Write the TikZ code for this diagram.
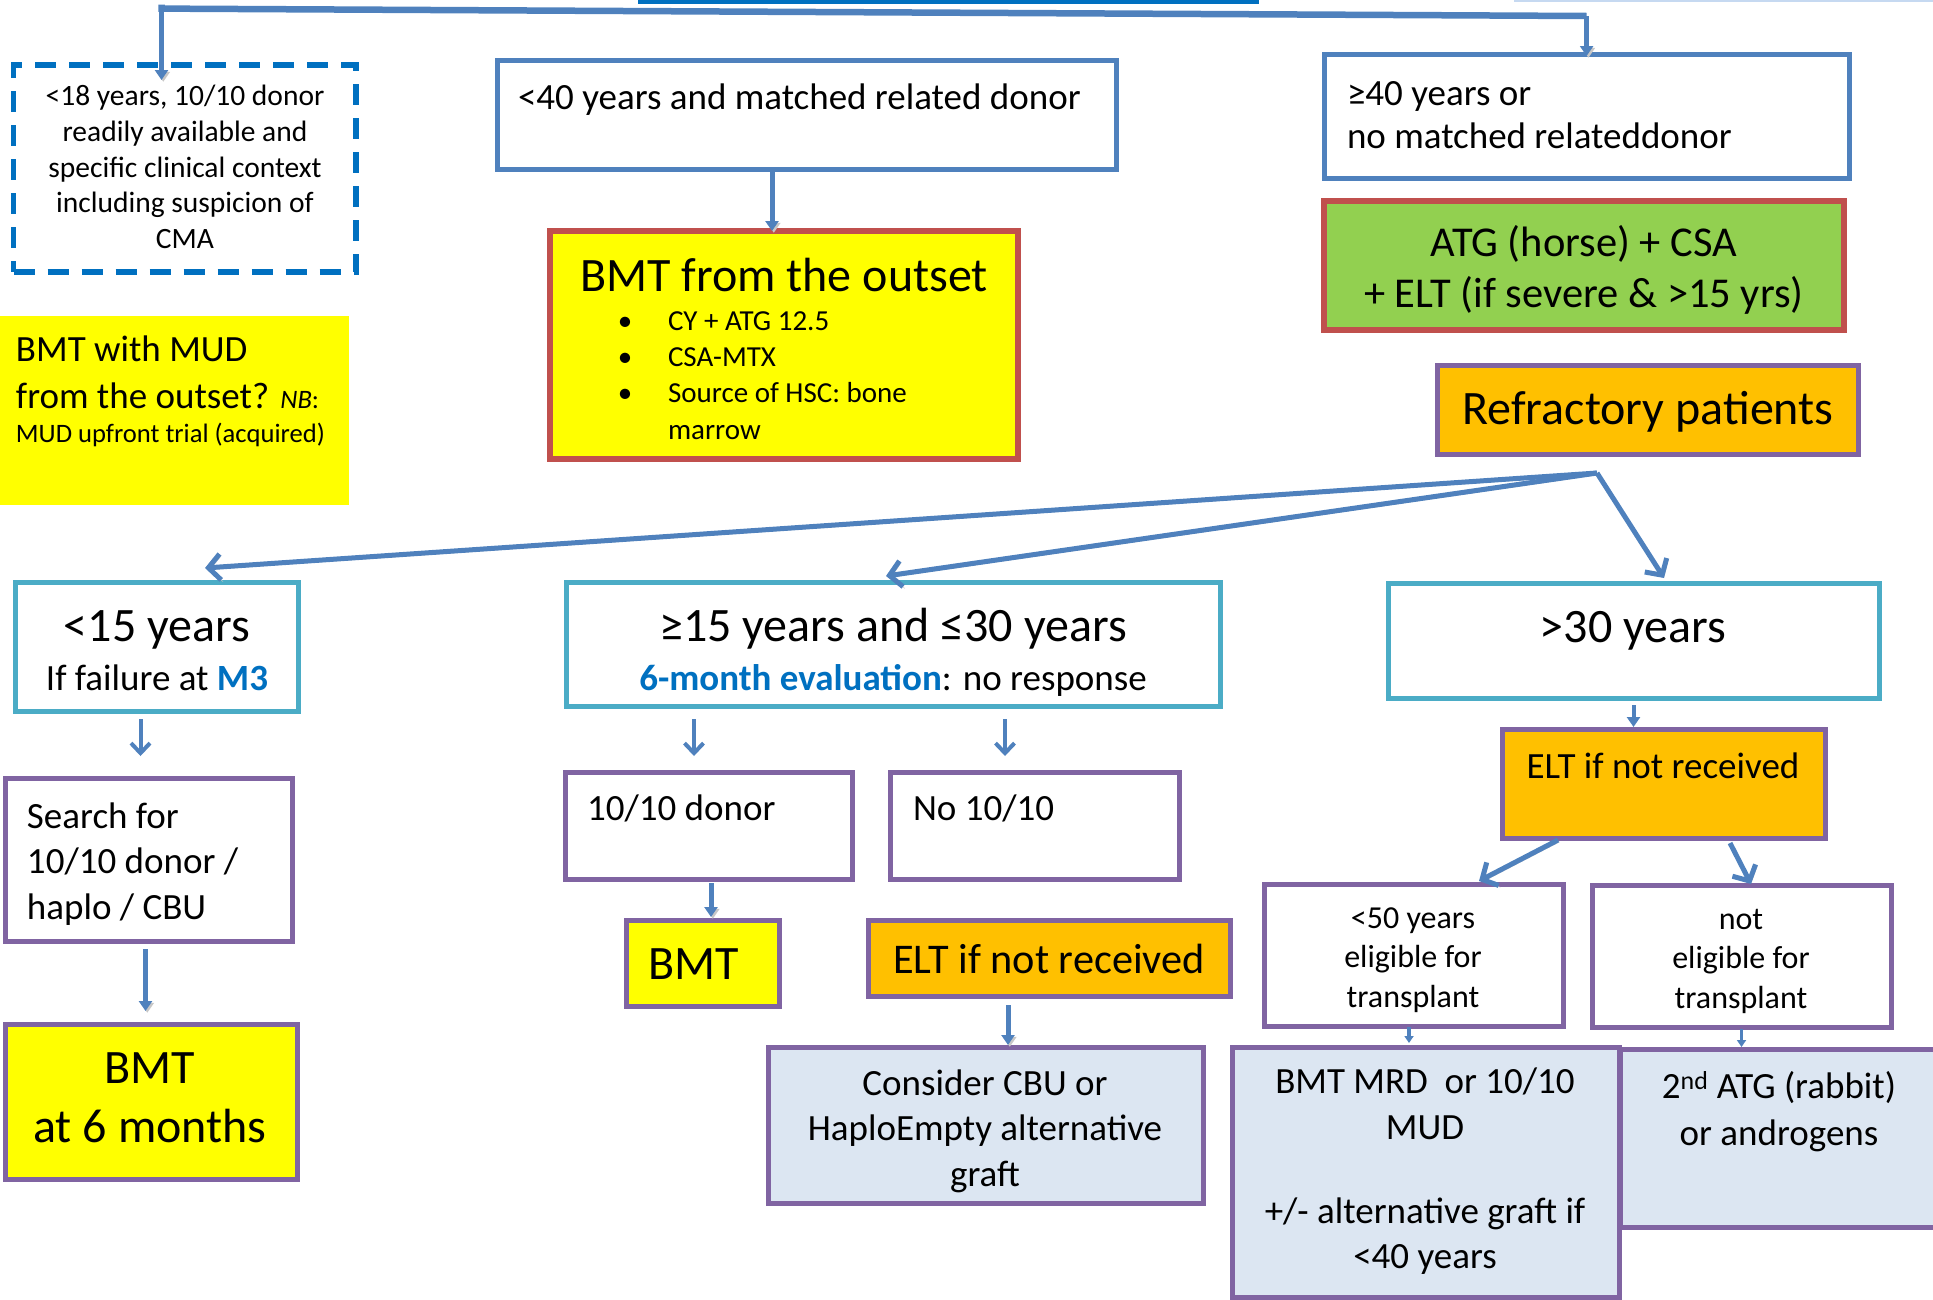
\documentclass[tikz,border=0pt]{standalone}
\usepackage{fontspec}
\setmainfont{Carlito}
\usetikzlibrary{arrows.meta}
\definecolor{topblue}{HTML}{4F81BD}
\definecolor{dblue}{HTML}{0070C0}
\definecolor{bred}{HTML}{C0504D}
\definecolor{agecol}{HTML}{4BACC6}
\definecolor{purp}{HTML}{8064A2}
\definecolor{yel}{HTML}{FFFF00}
\definecolor{orng}{HTML}{FFC000}
\definecolor{grn}{HTML}{92D050}
\definecolor{lblue}{HTML}{DCE6F2}
\definecolor{lbar}{HTML}{C6D9F1}
\newcommand\fs[2]{\fontsize{#1}{#2}\selectfont}
\tikzset{
  box/.style={draw, inner sep=0pt, outer sep=0pt, anchor=north west},
  bluebox/.style={box, draw=topblue, line width=5pt},
  agebox/.style={box, draw=agecol, line width=5pt},
  purpbox/.style={box, draw=purp, line width=5pt},
  shad/.style={preaction={draw=black!22, transform canvas={shift={(1.8pt,-1.8pt)}}}},
  arr/.style={draw=topblue, line width=5pt, -{Triangle[length=10pt,width=13pt]}},
  varr/.style={draw=topblue, line width=5pt, shad, -{Straight Barb[length=12pt,width=26pt]}},
  sarr/.style={draw=topblue, line width=4pt, -{Straight Barb[length=10pt,width=19pt]}},
}
\begin{document}
\begin{tikzpicture}[x=1pt,y=-1pt, every node/.style={inner sep=0pt, outer sep=0pt}]
\useasboundingbox (0,0) rectangle (1933,1299);
% cut-off shapes at the top edge
\fill[dblue] (638,0) rectangle (1259,3.5);
\fill[lbar] (1514,0) rectangle (1933,1.8);

% boxes
\node[box, draw=dblue, line width=5.5pt, dash pattern=on 21pt off 13pt, minimum width=342.5pt, minimum height=207pt] (d18) at (13.5,65) {};
\node[box, draw=none, fill=yel, minimum width=349pt, minimum height=189pt] (mud) at (0,316) {};
\node[bluebox, minimum width=619pt, minimum height=109pt] (r40) at (497,60) {};
\node[box, draw=bred, line width=6pt, fill=yel, minimum width=468pt, minimum height=228pt] (outset) at (550,231) {};
\node[bluebox, minimum width=525pt, minimum height=124pt] (g40) at (1324,54) {};
\node[box, draw=bred, line width=6pt, fill=grn, minimum width=520pt, minimum height=129pt] (atg) at (1324,201) {};
\node[purpbox, fill=orng, minimum width=421pt, minimum height=89pt] (refr) at (1437,365) {};

\node[agebox, minimum width=283pt, minimum height=129pt] (lt15) at (15,582) {};
\node[agebox, minimum width=654pt, minimum height=124pt] (m15) at (566,582) {};
\node[agebox, minimum width=491pt, minimum height=115pt] (gt30) at (1388,583) {};

\node[purpbox, minimum width=287pt, minimum height=163pt] (search) at (5,778) {};
\node[purpbox, fill=yel, minimum width=292pt, minimum height=155pt] (bmt6) at (5,1024) {};
\node[purpbox, minimum width=287pt, minimum height=107pt] (d1010) at (565,772) {};
\node[purpbox, minimum width=289pt, minimum height=107pt] (no1010) at (890,772) {};
\node[purpbox, fill=yel, minimum width=153pt, minimum height=86pt] (bmts) at (626,920) {};
\node[purpbox, fill=orng, minimum width=362pt, minimum height=76pt] (eltm) at (868,920) {};
\node[purpbox, fill=lblue, minimum width=435pt, minimum height=156pt] (cons) at (768,1047) {};
\node[purpbox, fill=orng, minimum width=323pt, minimum height=109pt] (eltr) at (1502,729) {};
\node[purpbox, minimum width=299pt, minimum height=142pt] (lt50) at (1264,884) {};
\node[purpbox, minimum width=299pt, minimum height=142pt] (note) at (1592,885) {};
\node[purpbox, fill=lblue, minimum width=387pt, minimum height=250pt] (mrd) at (1232,1047) {};
\node[purpbox, fill=lblue, minimum width=325pt, minimum height=178pt] (atgb) at (1620,1049) {};

% texts
\node[align=center, font=\fs{29.5}{35.7}] (d18t) at (185,167) {<18 years, 10/10 donor\\readily available and\\specific clinical context\\including suspicion of\\CMA};
\node[anchor=base west, font=\fs{37}{45}] (mud1) at (16,361) {BMT with MUD};
\node[anchor=base west, font=\fs{37}{45}] (mud2) at (16,408) {from the outset? {\fs{26.6}{32}\itshape NB}{\fs{26.6}{32}:}};
\node[anchor=base west, font=\fs{26.6}{32}] (mud3) at (16,442) {MUD upfront trial (acquired)};
\node[anchor=base west, font=\fs{37}{45}] (r40t) at (518,109) {<40 years and matched related donor};
\node[anchor=base, font=\fs{48}{58}] (outt) at (784,291) {BMT from the outset};
\node[anchor=base, font=\fs{29}{36}] (b1) at (625,330) {•};
\node[anchor=base, font=\fs{29}{36}] (b2) at (625,366) {•};
\node[anchor=base, font=\fs{29}{36}] (b3) at (625,402) {•};
\node[anchor=base west, font=\fs{29}{36}] (o1) at (668,330) {CY + ATG 12.5};
\node[anchor=base west, font=\fs{29}{36}] (o2) at (668,366) {CSA-MTX};
\node[anchor=base west, font=\fs{29}{36}] (o3) at (668,402) {Source of HSC: bone};
\node[anchor=base west, font=\fs{29}{36}] (o4) at (668,439) {marrow};
\node[anchor=base west, font=\fs{37}{45}] (g40a) at (1347,105.5) {≥40 years or};
\node[anchor=base west, font=\fs{37}{45}] (g40b) at (1347,148.6) {no matched relateddonor};
\node[anchor=base, font=\fs{42.5}{51}] (atga) at (1584,256) {ATG (horse) + CSA};
\node[anchor=base, font=\fs{42.5}{51}] (atgbt) at (1584,307) {+ ELT (if severe \& >15 yrs)};
\node[anchor=base, font=\fs{48}{58}] (refrt) at (1648,424) {Refractory patients};
\node[anchor=base, font=\fs{48}{58}] (lt15a) at (157,641) {<15 years};
\node[anchor=base, font=\fs{37}{45}] (lt15b) at (157,690) {If failure at \textcolor{dblue}{\bfseries M3}};
\node[anchor=base, font=\fs{48}{58}] (m15a) at (893,641) {≥15 years and ≤30 years};
\node[anchor=base, font=\fs{37}{45}] (m15b) at (893,690) {\textcolor{dblue}{\bfseries 6-month evaluation}: no response};
\node[anchor=base, font=\fs{48}{58}] (gt30t) at (1633,642) {>30 years};
\node[anchor=base west, font=\fs{37}{45}] (s1) at (27,828) {Search for};
\node[anchor=base west, font=\fs{37}{45}] (s2) at (27,873) {10/10 donor /};
\node[anchor=base west, font=\fs{37}{45}] (s3) at (27,919) {haplo / CBU};
\node[anchor=base, font=\fs{48}{58}] (bmt6a) at (150,1083.5) {BMT};
\node[anchor=base, font=\fs{48}{58}] (bmt6b) at (150,1142.5) {at 6 months};
\node[anchor=base west, font=\fs{37}{45}] (d1010t) at (587,820) {10/10 donor};
\node[anchor=base west, font=\fs{37}{45}] (no1010t) at (913,820) {No 10/10};
\node[anchor=base, font=\fs{48}{58}] (bmtst) at (694,979.5) {BMT};
\node[anchor=base, font=\fs{42.3}{51}] (eltmt) at (1049,973.6) {ELT if not received};
\node[align=center, font=\fs{37}{45.6}] (const) at (985,1131) {Consider CBU or\\HaploEmpty alternative\\graft};
\node[anchor=base, font=\fs{37}{45}] (eltrt) at (1663,778) {ELT if not received};
\node[align=center, font=\fs{32}{39.5}] (lt50t) at (1413,960) {<50 years\\eligible for\\transplant};
\node[align=center, font=\fs{32}{39.5}] (notet) at (1741,961) {not\\eligible for\\transplant};
\node[align=center, font=\fs{37}{45.6}] (mrdt) at (1425,1171.5) {BMT MRD~ or 10/10\\MUD\\[38pt]+/- alternative graft if\\<40 years};
\node[align=center, font=\fs{37}{47}] (atgbt2) at (1779,1111.5) {2\textsuperscript{nd} ATG (rabbit)\\or androgens};

% connectors
\coordinate (tl) at (161.5,8.6);
\coordinate (tr) at (1586.6,16);
\draw[draw=topblue, line width=6.5pt, shad] ([yshift=4pt]tl) -- (tl) -- (tr);
\draw[arr, shad] ([yshift=-2pt]tl) -- ([yshift=-15pt]tl |- d18.north);
\draw[arr, shad] (tr) -- ([yshift=-2pt]tr |- g40.north);
\draw[arr, shad] ([xshift=-34.5pt]r40.south) -- ([xshift=-34.5pt]r40.south |- outset.north);

\coordinate (P) at (1597,473);
\draw[varr] (P) -- ([shift={(48.5,-14)}]lt15.north);
\draw[varr] (P) -- ([shift={(-7,-6)}]m15.north);
\draw[varr] (P) -- ([shift={(30.5,-5)}]gt30.north);

\draw[sarr] ([shift={(-16,8)}]lt15.south) -- ++(0,37);
\draw[sarr] ([shift={(-199,13)}]m15.south) -- ++(0,37);
\draw[sarr] ([shift={(112,13)}]m15.south) -- ++(0,37);

\draw[arr, shad] ([shift={(-3,8)}]search.south) -- ++(0,62);
\draw[arr, shad] ([shift={(2.5,4)}]d1010.south) -- ++(0,34);
\draw[arr, shad] ([shift={(-41,9)}]eltm.south) -- ++(0,40);
\draw[arr, line width=4pt] ([shift={(0,7)}]gt30.south) -- ++(0,22);
\draw[varr] ([shift={(-105.5,2)}]eltr.south) -- ([shift={(65.5,-3)}]lt50.north);
\draw[varr] ([shift={(66.5,5)}]eltr.south) -- ([shift={(9.5,-1)}]note.north);
\draw[arr, line width=3.5pt, -{Triangle[length=7pt,width=9pt]}] ([shift={(-4.5,1)}]lt50.south) -- ++(0,16);
\draw[arr, line width=3.5pt, -{Triangle[length=7pt,width=9pt]}] ([shift={(0,2)}]note.south) -- ++(0,18);
\end{tikzpicture}
\end{document}
